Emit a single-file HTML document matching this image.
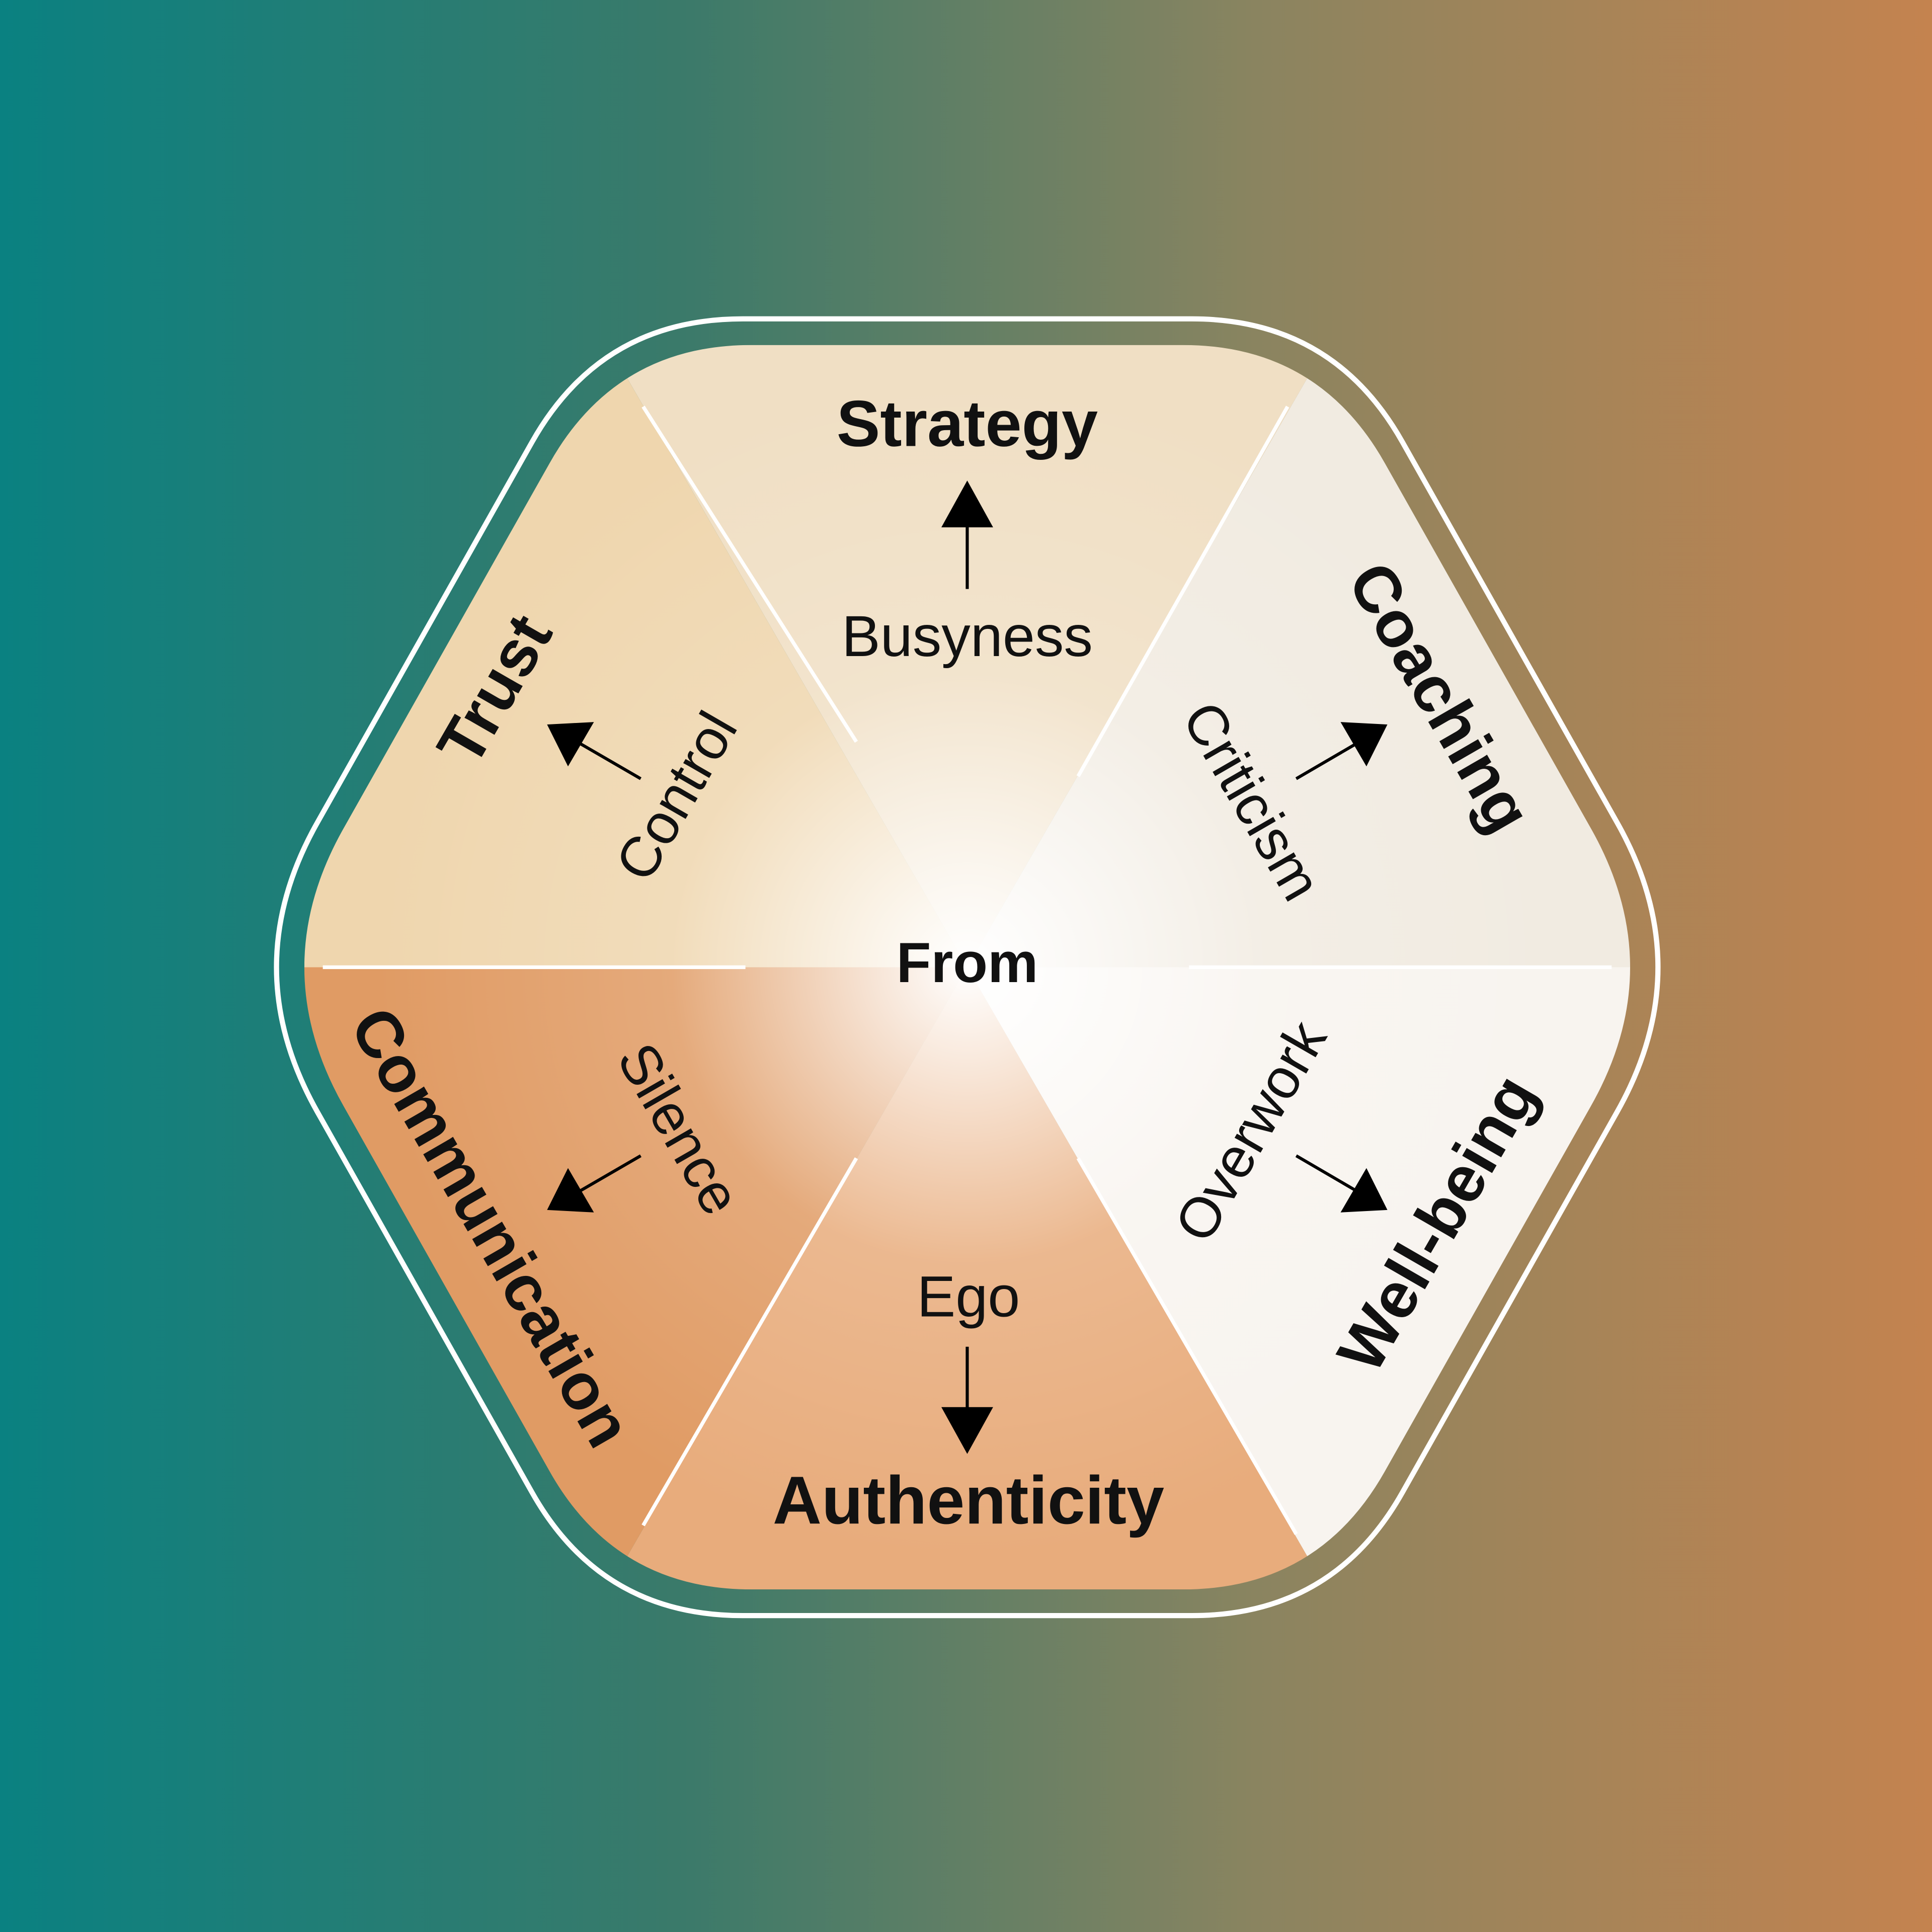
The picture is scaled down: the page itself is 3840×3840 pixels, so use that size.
<!DOCTYPE html>
<html><head><meta charset="utf-8"><style>
html,body{margin:0;padding:0;}
body{width:3840px;height:3840px;overflow:hidden;}
svg{display:block;}
text{font-family:"Liberation Sans",sans-serif;fill:#111;text-anchor:middle;dominant-baseline:middle;}
.b{font-weight:bold;}
</style></head><body>
<svg width="3840" height="3840" viewBox="0 0 1568 1568" xmlns="http://www.w3.org/2000/svg">
<defs>
<linearGradient id="bg" x1="0" y1="0" x2="1" y2="0">
<stop offset="0" stop-color="#0a8181"/><stop offset="0.35" stop-color="#3a7a6a"/><stop offset="0.65" stop-color="#8a8460"/><stop offset="1" stop-color="#c4834f"/>
</linearGradient>
<radialGradient id="rg" cx="785" cy="785" r="480" gradientUnits="userSpaceOnUse">
<stop offset="0" stop-color="#fff" stop-opacity="1"/><stop offset="0.15" stop-color="#fff" stop-opacity="0.75"/><stop offset="0.5" stop-color="#fff" stop-opacity="0.15"/><stop offset="1" stop-color="#fff" stop-opacity="0"/>
</radialGradient>
<clipPath id="hx"><path d="M279,672 L446,376 Q500,280 610,280 L960,280 Q1070,280 1124,376 L1291,672 Q1355,785 1291,898 L1124,1194 Q1070,1290 960,1290 L610,1290 Q500,1290 446,1194 L279,898 Q215,785 279,672 Z"/></clipPath>
</defs>
<rect width="1568" height="1568" fill="url(#bg)"/>
<g transform="translate(785,785) scale(1.042) translate(-785,-785)">
<path d="M279,672 L446,376 Q500,280 610,280 L960,280 Q1070,280 1124,376 L1291,672 Q1355,785 1291,898 L1124,1194 Q1070,1290 960,1290 L610,1290 Q500,1290 446,1194 L279,898 Q215,785 279,672 Z" fill="none" stroke="#fff" stroke-width="4"/>
</g>
<g clip-path="url(#hx)">
<polygon points="785,785 1140,170 430,170" fill="#f0dfc4"/>
<polygon points="785,785 430,170 0,170 0,785" fill="#efd6ae"/>
<polygon points="785,785 1140,170 1568,170 1568,785" fill="#f1ebe1"/>
<polygon points="785,785 1568,785 1568,1500 1140,1400" fill="#f8f4ef"/>
<polygon points="785,785 1140,1400 430,1400" fill="#e8ac7c"/>
<polygon points="785,785 430,1400 0,1400 0,785" fill="#e09b64"/>
<rect width="1568" height="1568" fill="url(#rg)"/>
</g>
<g stroke="#fff" stroke-width="3" fill="none">
<line x1="262" y1="785" x2="605" y2="785"/><line x1="965" y1="785" x2="1308" y2="785"/>
<line x1="522" y1="330" x2="695" y2="602"/><line x1="1045" y1="330" x2="875" y2="630"/>
<line x1="522" y1="1238" x2="695" y2="940"/><line x1="875" y1="940" x2="1052" y2="1245"/>
</g>
<text class="b" x="785" y="348" font-size="53">Strategy</text>
<text x="785" y="520" font-size="47">Busyness</text>
<line x1="785" y1="478" x2="785" y2="425" stroke="#000" stroke-width="2.5"/>
<polygon points="785,390 806,428 764,428" fill="#000"/>
<text class="b" x="785" y="785" font-size="46">From</text>
<text x="786" y="1056" font-size="47">Ego</text>
<line x1="785" y1="1093" x2="785" y2="1148" stroke="#000" stroke-width="2.5"/>
<polygon points="785,1180 806,1142 764,1142" fill="#000"/>
<text class="b" x="786" y="1222" font-size="55">Authenticity</text>
<text class="b" transform="translate(405,562) rotate(-60)" font-size="53">Trust</text>
<text transform="translate(552,648) rotate(-60)" font-size="46">Control</text>
<line x1="520" y1="632" x2="470" y2="603" stroke="#000" stroke-width="2.5"/>
<polygon points="444,588 482,586 461,622" fill="#000"/>
<text class="b" transform="translate(1165,568) rotate(60)" font-size="53">Coaching</text>
<text transform="translate(1013,652) rotate(60)" font-size="46">Criticism</text>
<line x1="1052" y1="632" x2="1100" y2="604" stroke="#000" stroke-width="2.5"/>
<polygon points="1126,588 1088,586 1109,622" fill="#000"/>
<text class="b" transform="translate(395,998) rotate(60)" font-size="53">Communication</text>
<text transform="translate(548,918) rotate(60)" font-size="46">Silence</text>
<line x1="520" y1="938" x2="470" y2="967" stroke="#000" stroke-width="2.5"/>
<polygon points="444,982 482,984 461,948" fill="#000"/>
<text class="b" transform="translate(1170,995) rotate(-60)" font-size="53">Well-being</text>
<text transform="translate(1018,920) rotate(-60)" font-size="46">Overwork</text>
<line x1="1052" y1="938" x2="1100" y2="966" stroke="#000" stroke-width="2.5"/>
<polygon points="1126,982 1088,984 1109,948" fill="#000"/>
</svg>
</body></html>
